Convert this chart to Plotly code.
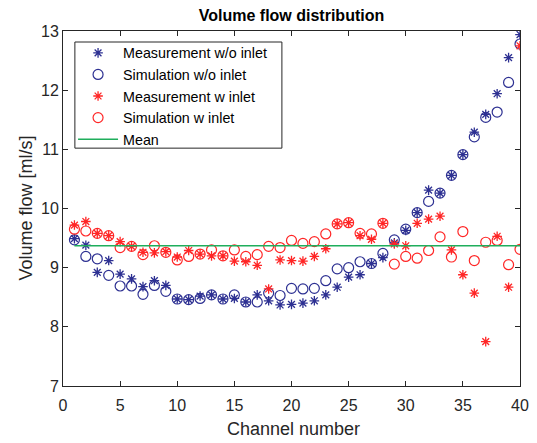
import plotly.graph_objects as go

channels = list(range(1, 41))

meas_wo_inlet = [9.49, 9.38, 8.92, 9.12, 8.89, 8.81, 8.68, 8.78, 8.70, 8.47,
                 8.46, 8.52, 8.54, 8.47, 8.48, 8.42, 8.54, 8.44, 8.37, 8.38,
                 8.40, 8.44, 8.54, 8.67, 8.84, 8.88, 9.07, 9.17, 9.42, 9.63,
                 9.93, 10.31, 10.26, 10.56, 10.91, 11.29, 11.59, 11.94, 12.55, 12.94]

sim_wo_inlet = [9.47, 9.19, 9.15, 8.87, 8.69, 8.69, 8.55, 8.70, 8.60, 8.47,
                8.46, 8.48, 8.54, 8.47, 8.54, 8.42, 8.42, 8.57, 8.53, 8.65,
                8.64, 8.65, 8.78, 8.98, 9.00, 9.10, 9.07, 9.24, 9.47, 9.65,
                9.93, 10.12, 10.26, 10.56, 10.91, 11.21, 11.54, 11.63, 12.13, 12.78]

meas_w_inlet = [9.72, 9.78, 9.58, 9.54, 9.44, 9.36, 9.26, 9.25, 9.27, 9.18,
                9.29, 9.23, 9.20, 9.20, 9.11, 9.10, 9.04, 8.64, 9.13, 9.12,
                9.11, 9.19, 9.32, 9.74, 9.76, 9.54, 9.48, 9.75, 9.40, 9.37,
                9.75, 9.82, 9.87, 9.30, 8.88, 8.57, 7.75, 9.53, 8.67, 12.75]

sim_w_inlet = [9.65, 9.62, 9.58, 9.54, 9.34, 9.36, 9.22, 9.37, 9.26, 9.13,
               9.19, 9.23, 9.30, 9.20, 9.30, 9.19, 9.22, 9.36, 9.34, 9.46,
               9.41, 9.44, 9.57, 9.74, 9.76, 9.58, 9.57, 9.75, 9.06, 9.19,
               9.16, 9.29, 9.52, 9.18, 9.61, 9.12, 9.43, 9.46, 9.05, 9.31]

mean_flow = 9.37
mean_x = [channels[0], channels[-1]]

x_ticks = [0, 5, 10, 15, 20, 25, 30, 35, 40]
y_ticks = [7, 8, 9, 10, 11, 12, 13]

BLUE = "#2d3092"
RED = "#ff2626"
GREEN = "#1fae5c"
AXIS = "#262626"
FONT = "Liberation Sans, Arial, sans-serif"

fig = go.Figure()
fig.add_trace(go.Scatter(x=channels, y=meas_wo_inlet, mode="markers",
                         name="Measurement w/o inlet",
                         marker=dict(symbol="asterisk-open", size=8, color=BLUE,
                                     line=dict(color=BLUE, width=1.3))))
fig.add_trace(go.Scatter(x=channels, y=sim_wo_inlet, mode="markers",
                         name="Simulation w/o inlet",
                         marker=dict(symbol="circle-open", size=10, color=BLUE,
                                     line=dict(color=BLUE, width=1.2))))
fig.add_trace(go.Scatter(x=channels, y=meas_w_inlet, mode="markers",
                         name="Measurement w inlet",
                         marker=dict(symbol="asterisk-open", size=8, color=RED,
                                     line=dict(color=RED, width=1.3))))
fig.add_trace(go.Scatter(x=channels, y=sim_w_inlet, mode="markers",
                         name="Simulation w inlet",
                         marker=dict(symbol="circle-open", size=10, color=RED,
                                     line=dict(color=RED, width=1.2))))
fig.add_trace(go.Scatter(x=mean_x, y=[mean_flow, mean_flow], mode="lines",
                         name="Mean", line=dict(color=GREEN, width=1.5)))

axis_common = dict(showline=True, linecolor=AXIS, linewidth=1, mirror="ticks",
                   ticks="inside", ticklen=5, tickcolor=AXIS, showgrid=False,
                   zeroline=False, automargin=False,
                   tickfont=dict(family=FONT, size=16, color=AXIS))

fig.update_layout(
    width=537, height=443,
    margin=dict(l=63, r=17, t=31, b=57),
    paper_bgcolor="white", plot_bgcolor="white",
    font=dict(family=FONT, color=AXIS),
    title=dict(text="<b>Volume flow distribution</b>", x=0.5, xref="paper",
               y=0.966, yanchor="middle",
               font=dict(family=FONT, size=16, color="black")),
    xaxis=dict(range=[0, 40], tickvals=x_ticks, ticktext=[str(v) for v in x_ticks],
               ticklabelstandoff=5, **axis_common),
    yaxis=dict(range=[7, 13], tickvals=y_ticks, ticktext=[str(v) for v in y_ticks],
               **axis_common),
    legend=dict(x=0.022, y=0.983, xanchor="left", yanchor="top",
                bgcolor="rgba(0,0,0,0)", borderwidth=0,
                font=dict(family=FONT, size=14.3, color="black"),
                itemwidth=40, tracegroupgap=0),
    showlegend=True,
    shapes=[dict(type="rect", xref="paper", yref="paper",
                 x0=0.026, x1=0.479, y0=0.670, y1=0.969,
                 line=dict(color=AXIS, width=1), fillcolor="white", layer="above")],
    annotations=[
        dict(text="Channel number", xref="paper", yref="paper", x=0.505, y=-0.121,
             xanchor="center", yanchor="middle", showarrow=False,
             font=dict(family=FONT, size=18, color=AXIS)),
        dict(text="Volume flow [ml/s]", xref="paper", yref="paper", x=-0.083, y=0.5,
             xanchor="center", yanchor="middle", textangle=-90, showarrow=False,
             font=dict(family=FONT, size=18, color=AXIS)),
    ],
)

fig.write_html("out.html")
